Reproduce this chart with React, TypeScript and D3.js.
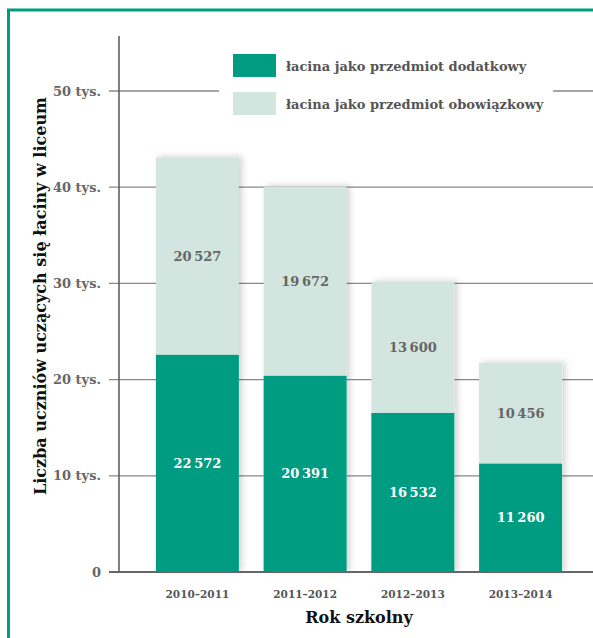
import React from "react";
import * as d3 from "d3";

const years = ["2010–2011", "2011–2012", "2012–2013", "2013–2014"];
const dodatkowy = [22572, 20391, 16532, 11260];
const obowiazkowy = [20527, 19672, 13600, 10456];
const yTicks = [0, 10000, 20000, 30000, 40000, 50000];
const yTickLabels = ["0", "10 tys.", "20 tys.", "30 tys.", "40 tys.", "50 tys."];
const seriesNames = ["łacina jako przedmiot dodatkowy", "łacina jako przedmiot obowiązkowy"];

const DARK = "#009c82";
const LIGHT = "#d2e6df";
const FONT = "'DejaVu Serif', serif";

const fmt = (v: number) => {
  const s = String(v);
  return s.length > 3 ? s.slice(0, s.length - 3) + "\u2009" + s.slice(-3) : s;
};

export default function App() {
  const W = 593, H = 638;
  const axisX = 119;
  const y = d3.scaleLinear().domain([0, 50000]).range([572, 91]);
  const x = d3.scaleBand().domain(years).range([143, 575]).paddingInner(0.23).paddingOuter(0.12);

  return (
    <svg width={W} height={H} style={{ position: "absolute", left: 0, top: 0, background: "#fff" }} fontFamily={FONT}>
      <defs>
        <filter id="sh" x="-20%" y="-20%" width="150%" height="140%">
          <feDropShadow dx="3" dy="-1" stdDeviation="3" floodColor="#000" floodOpacity="0.18" />
        </filter>
      </defs>
      {/* frame */}
      <line x1={7} x2={W} y1={10} y2={10} stroke={DARK} strokeWidth={3} />
      <line x1={8.5} x2={8.5} y1={9} y2={H} stroke={DARK} strokeWidth={3} />

      {/* gridlines */}
      {yTicks.map((t, i) => (
        <g key={t}>
          <line x1={109} x2={W} y1={y(t)} y2={y(t)} stroke={i === 0 ? "#666" : "#888"} strokeWidth={i === 0 ? 2 : 1.3} />
          <text x={101} y={y(t)} dy="0.35em" textAnchor="end" fontSize={13} fontWeight="bold" fill="#666">
            {yTickLabels[i]}
          </text>
        </g>
      ))}
      <line x1={axisX} x2={axisX} y1={36} y2={573} stroke="#555" strokeWidth={1.5} />

      {/* legend background */}
      <rect x={219} y={45} width={334} height={80} fill="#fff" />
      {seriesNames.map((n, i) => (
        <g key={n}>
          <rect x={233} y={54 + i * 38} width={43} height={23} fill={i === 0 ? DARK : LIGHT} />
          <text x={286} y={66 + i * 38} dy="0.35em" fontSize={13} fontWeight="bold" fill="#555">
            {n}
          </text>
        </g>
      ))}

      {/* bars */}
      {years.map((yr, i) => {
        const bx = x(yr)!;
        const bw = x.bandwidth();
        const d = dodatkowy[i];
        const o = obowiazkowy[i];
        return (
          <g key={yr}>
            <rect x={bx} y={y(d + o)} width={bw} height={y(0) - y(d + o)} fill={LIGHT} filter="url(#sh)" />
            <rect x={bx} y={y(d)} width={bw} height={y(0) - y(d) - 1} fill={DARK} />
            <text x={bx + bw / 2} y={(y(d) + y(d + o)) / 2} dy="0.35em" textAnchor="middle" fontSize={13} fontWeight="bold" fill="#666">
              {fmt(o)}
            </text>
            <text x={bx + bw / 2} y={(y(d) + y(0)) / 2} dy="0.35em" textAnchor="middle" fontSize={13} fontWeight="bold" fill="#fff">
              {fmt(d)}
            </text>
            <text x={bx + bw / 2} y={594} dy="0.35em" textAnchor="middle" fontSize={10.5} fontWeight="bold" fill="#555">
              {yr}
            </text>
          </g>
        );
      })}
      <line x1={109} x2={W} y1={y(0)} y2={y(0)} stroke="#666" strokeWidth={2} />

      {/* axis titles */}
      <text x={359} y={617} dy="0.35em" textAnchor="middle" fontSize={16} fontWeight="bold" fill="#111">
        Rok szkolny
      </text>
      <text transform={`translate(40,296) rotate(-90)`} dy="0.35em" textAnchor="middle" fontSize={16} fontWeight="bold" fill="#111">
        Liczba uczniów uczących się łaciny w liceum
      </text>
    </svg>
  );
}
